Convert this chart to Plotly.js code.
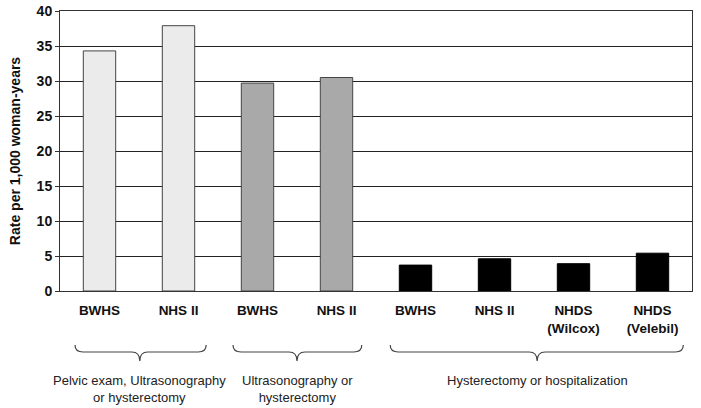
<!DOCTYPE html>
<html>
<head>
<meta charset="utf-8">
<script src="https://cdn.plot.ly/plotly-3.0.1.min.js"></script>
<style>
  body { margin: 0; background: #fff; }
  #graph { width: 701px; height: 408px; }
</style>
</head>
<body>
<div id="graph"></div>
<script>
/* datos */
const studies = ['BWHS', 'NHS II', 'BWHS', 'NHS II', 'BWHS', 'NHS II', 'NHDS<br>(Wilcox)', 'NHDS<br>(Velebil)'];
const rates = [34.3, 37.9, 29.7, 30.5, 3.7, 4.6, 3.9, 5.4];
const groupOf = [0, 0, 1, 1, 2, 2, 2, 2];

const groupLabels = [
    'Pelvic exam, Ultrasonography<br>or hysterectomy',
    'Ultrasonography or<br>hysterectomy',
    'Hysterectomy or hospitalization'
];
const groupFill = ['#ebebeb', '#a9a9a9', '#000000'];
const groupLine = ['#444444', '#444444', '#000000'];

// extremos de cada llave, en unidades del eje x
const braceSpan = [[-0.31, 1.35, 0.51], [1.69, 3.32, 2.5], [3.68, 7.39, 5.54]];

const xs = studies.map((s, i) => i);

function showGraph(){
    const graph = document.getElementById('graph');

    const W = 701, H = 408;
    const margin = {l: 60, r: 9, t: 11, b: 117};
    const pw = W - margin.l - margin.r;
    const ph = H - margin.t - margin.b;
    const xmin = -0.5, xmax = 7.5;

    const px = v => (v - xmin) / (xmax - xmin);      // x de datos -> papel
    const py = p => -p / ph;                          // pixeles bajo el eje -> papel
    const r = 8 / pw;

    const yT = py(54), yM = py(61), yB = py(70);

    const shapes = braceSpan.map(([a, b, t]) => {
        const x0 = px(a), x1 = px(b), tip = px(t);
        return {
            type: 'path', xref: 'paper', yref: 'paper',
            path: `M ${x0},${yT} Q ${x0},${yM} ${x0 + r},${yM} L ${tip - r},${yM} ` +
                  `Q ${tip},${yM} ${tip},${yB} Q ${tip},${yM} ${tip + r},${yM} ` +
                  `L ${x1 - r},${yM} Q ${x1},${yM} ${x1},${yT}`,
            line: {color: '#444444', width: 1.2}
        };
    });

    const annotations = braceSpan.map(([a, b, t], g) => ({
        xref: 'paper', yref: 'paper',
        x: px(t), y: py(80), xanchor: 'center', yanchor: 'top',
        text: groupLabels[g], showarrow: false,
        font: {family: 'Arial, Liberation Sans', size: 13, color: '#222'}
    }));

    const layout = {
        width: W, height: H,
        margin: margin,
        paper_bgcolor: '#ffffff',
        plot_bgcolor: '#ffffff',
        showlegend: false,
        bargap: 0.59,
        font: {family: 'Arial, Liberation Sans', color: '#111'},
        xaxis: {
            range: [xmin, xmax],
            tickvals: xs,
            ticktext: studies,
            tickfont: {size: 13.5, weight: 'bold'},
            ticks: '',
            ticklabelstandoff: 7,
            showgrid: false,
            zeroline: false,
            showline: true,
            linecolor: '#333',
            linewidth: 1,
            mirror: true
        },
        yaxis: {
            range: [0, 40],
            dtick: 5,
            tickfont: {size: 14, weight: 'bold'},
            ticks: 'outside',
            ticklen: 4,
            tickcolor: '#333',
            showgrid: true,
            gridcolor: '#222',
            gridwidth: 1,
            zeroline: false,
            showline: true,
            linecolor: '#333',
            linewidth: 1,
            mirror: true,
            title: {
                text: 'Rate per 1,000 woman-years',
                font: {size: 14, weight: 'bold'},
                standoff: 12
            }
        },
        shapes: shapes,
        annotations: annotations
    };

    const config = {staticPlot: true};

    Plotly.newPlot(graph, [
        {
            type: 'bar',
            x: xs,
            y: rates,
            marker: {
                color: groupOf.map(g => groupFill[g]),
                line: {color: groupOf.map(g => groupLine[g]), width: 1}
            },
            hoverinfo: 'none'
        }
    ], layout, config);
}

showGraph();
</script>
</body>
</html>
